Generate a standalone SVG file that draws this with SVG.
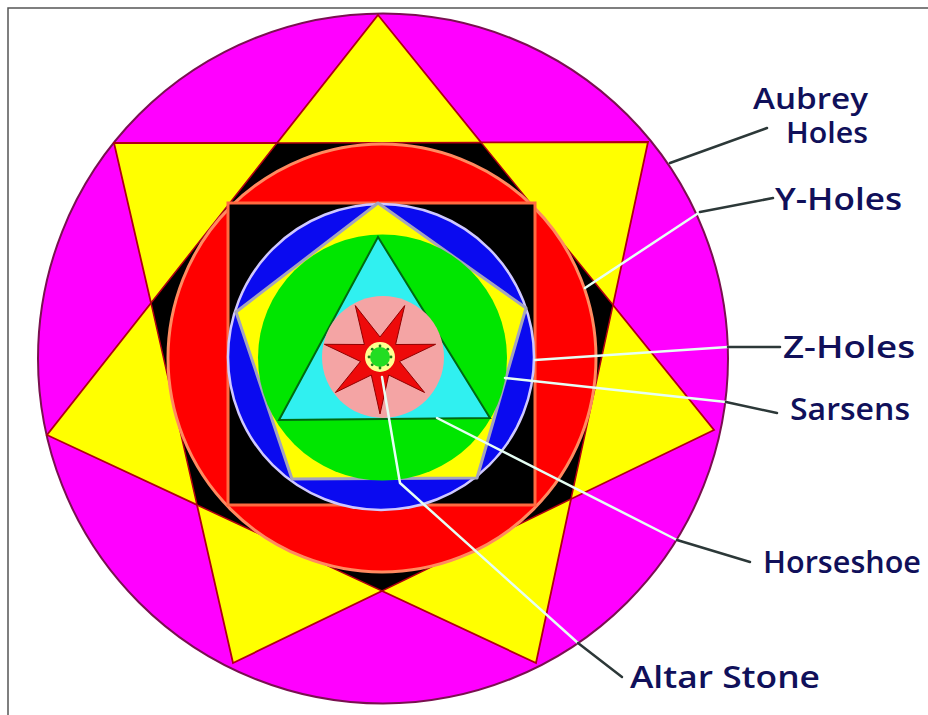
<svg xmlns="http://www.w3.org/2000/svg" width="928" height="715" viewBox="0 0 928 715">
  <style>
    .lbl { font-family: "Open Sans", "Noto Sans", "DejaVu Sans", sans-serif; font-size: 30px; font-weight: 600; fill: #10105a; }
    .sm { font-size: 28px; }
    .dark { fill: none; stroke: #2c3838; stroke-width: 2.5; stroke-linecap: round; stroke-linejoin: round; }
    .light { fill: none; stroke: #e6fff4; stroke-width: 2.5; stroke-linecap: round; stroke-linejoin: round; }
  </style>
  <rect x="0" y="0" width="928" height="715" fill="#ffffff"/>
  <path d="M8 715 V8 H928" fill="none" stroke="#555" stroke-width="1.5"/>

  <g id="aubrey-ring">
    <circle cx="383" cy="358.5" r="345" fill="#ff00ff" stroke="#7a1050" stroke-width="2"/>
  </g>
  <g id="star7">
    <path d="M378 15 L481 142.4 L648 142 L613 305 L714 430 L571 499 L536 663 L382 591 L233 663 L197 505 L47 435 L151 303 L114 143 L277 143 Z" fill="#ffff00" stroke="#b00010" stroke-width="1.8" stroke-linejoin="miter"/>
  </g>
  <g id="heptagon">
    <path d="M481 142.4 L613 305 L571 499 L382 591 L197 505 L151 303 L277 143 Z" fill="#000000" stroke="#b00010" stroke-width="1.5"/>
  </g>
  <g id="y-holes">
    <circle cx="382" cy="358" r="214" fill="#ff0000" stroke="#ff8a60" stroke-width="3"/>
  </g>
  <g id="z-square">
    <rect x="228" y="203" width="307" height="302" fill="#000000" stroke="#ff6a40" stroke-width="3"/>
  </g>
  <g id="sarsens">
    <circle cx="381" cy="357" r="153" fill="#0a0af0" stroke="#cfc8ff" stroke-width="2.5"/>
  </g>
  <g id="pentagon">
    <path d="M378 203 L526 308 L477 478 L292 479 L236 312 Z" fill="#ffff00" stroke="#a4a4bc" stroke-width="3" stroke-linejoin="round"/>
  </g>
  <g id="horseshoe">
    <ellipse cx="382.5" cy="357.5" rx="124.5" ry="123" fill="#00e600"/>
  </g>
  <g id="triangle">
    <path d="M378 237 L490 418 L279 420 Z" fill="#30f0f0" stroke="#006a10" stroke-width="2"/>
  </g>
  <g id="inner-circle">
    <circle cx="383" cy="357" r="61" fill="#f4a4a4"/>
  </g>
  <g id="red-star">
    <path d="M380 414 L371.3 375 L335.4 392.5 L360.5 361.5 L324.4 344.3 L364.4 344.5 L355.3 305.6 L380 337 L404.7 305.6 L395.6 344.5 L435.6 344.3 L399.5 361.5 L424.6 392.5 L388.7 375 Z" fill="#ee0a0a" stroke="#900000" stroke-width="1"/>
  </g>
  <g id="altar-stone">
    <circle cx="380" cy="357" r="15" fill="#ffff90"/>
    <circle cx="380" cy="357" r="10" fill="#22dd22"/>
    <g fill="#1e7a1e">
      <circle cx="380" cy="346" r="1.4"/>
      <circle cx="387.8" cy="349.2" r="1.4"/>
      <circle cx="391" cy="357" r="1.4"/>
      <circle cx="387.8" cy="364.8" r="1.4"/>
      <circle cx="380" cy="368" r="1.4"/>
      <circle cx="372.2" cy="364.8" r="1.4"/>
      <circle cx="369" cy="357" r="1.4"/>
      <circle cx="372.2" cy="349.2" r="1.4"/>
    </g>
  </g>

  <g id="connectors">
    <path class="dark" d="M670 163 L767 128"/>
    <path class="light" d="M585 288 L700 212"/>
    <path class="dark" d="M700 212 L773 198"/>
    <path class="light" d="M535 360 L728 347"/>
    <path class="dark" d="M728 347 L780 347"/>
    <path class="light" d="M505 378 L726 402"/>
    <path class="dark" d="M726 402 L777 413"/>
    <path class="light" d="M437 418 L677 540"/>
    <path class="dark" d="M677 540 L750 562"/>
    <path class="light" d="M382 377 L400 483 L578 643"/>
    <path class="dark" d="M578 643 L622 677"/>
  </g>

  <g id="labels">
    <text class="lbl sm" x="753" y="109" textLength="115" lengthAdjust="spacingAndGlyphs">Aubrey</text>
    <text class="lbl sm" x="786" y="143" textLength="82" lengthAdjust="spacingAndGlyphs">Holes</text>
    <text class="lbl" x="775" y="210" textLength="127" lengthAdjust="spacingAndGlyphs">Y-Holes</text>
    <text class="lbl" x="783" y="358" textLength="132" lengthAdjust="spacingAndGlyphs">Z-Holes</text>
    <text class="lbl" x="790" y="420" textLength="120" lengthAdjust="spacingAndGlyphs">Sarsens</text>
    <text class="lbl" x="763" y="573" textLength="158" lengthAdjust="spacingAndGlyphs">Horseshoe</text>
    <text class="lbl" x="630" y="688" textLength="190" lengthAdjust="spacingAndGlyphs">Altar Stone</text>
  </g>
</svg>
